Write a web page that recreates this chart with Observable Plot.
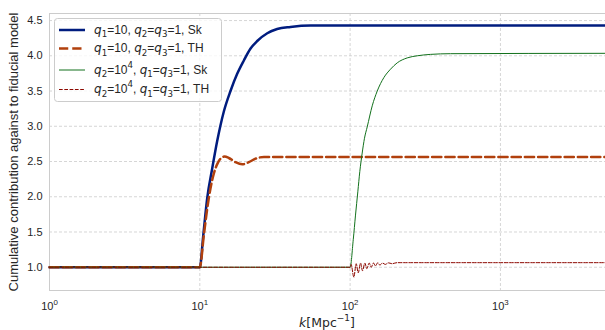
<!DOCTYPE html>
<html>
<head>
<meta charset="utf-8">
<script src="https://cdn.jsdelivr.net/npm/d3@7"></script>
<script src="https://cdn.jsdelivr.net/npm/@observablehq/plot@0.6"></script>
<style>
  html, body { margin: 0; padding: 0; background: white; overflow: hidden; }
  #chart { width: 605px; height: 330px; }
</style>
</head>
<body>
<div id="chart"></div>
<script>
// ---- data ----
const kTicks = [1, 10, 100, 1000];
const kTickLabels = ["10^0", "10^1", "10^2", "10^3"];
const yTicks = [1.0, 1.5, 2.0, 2.5, 3.0, 3.5, 4.0, 4.5];

const seriesLabels = [
  "*q*_1=10, *q*_2=*q*_3=1, Sk",
  "*q*_1=10, *q*_2=*q*_3=1, TH",
  "*q*_2=10^4, *q*_1=*q*_3=1, Sk",
  "*q*_2=10^4, *q*_1=*q*_3=1, TH"
];

// q1=10, Sk
const kSkQ1 = [1, 10, 10.54, 11.2, 12.09, 13.05, 14.45, 16.0, 17.7, 19.6, 21.7, 24.1, 28.1, 32.7, 40.1, 54.6, 5000];
const vSkQ1 = [1.0, 1.0, 1.45, 1.98, 2.40, 2.79, 3.21, 3.50, 3.74, 3.93, 4.10, 4.21, 4.32, 4.38, 4.41, 4.43, 4.43];
// q1=10, TH
const kThQ1 = [1, 10, 10.63, 11.20, 11.78, 12.40, 13.18, 13.88, 14.60, 15.6, 17.28, 19.15, 21.18, 23.48, 26.7, 34.4, 5000];
const vThQ1 = [1.0, 1.0, 1.45, 1.83, 2.12, 2.33, 2.48, 2.55, 2.57, 2.55, 2.49, 2.46, 2.49, 2.54, 2.565, 2.565, 2.565];
// q2=1e4, Sk
const kSkQ2 = [1, 100, 104.9, 108.6, 112.5, 116.0, 120.3, 124.6, 129.9, 140.3, 151.5, 167.6, 185.7, 205.8, 239.7, 279.5, 342.6, 466, 5000];
const vSkQ2 = [1.0, 1.0, 1.39, 1.74, 2.07, 2.36, 2.62, 2.83, 2.99, 3.29, 3.50, 3.69, 3.81, 3.90, 3.97, 4.00, 4.02, 4.03, 4.035];
// q2=1e4, TH
const kThQ2 = [1, 100, 101.5, 105.8, 109.8, 113.2, 117.3, 120.9, 125.3, 129.2, 133.9, 138.1, 143.1, 147.5, 152.9, 157.6, 164.3, 171.2, 180, 190, 205, 240, 5000];
const vThQ2 = [1.0, 1.0, 1.04, 0.86, 1.05, 0.92, 1.06, 0.95, 1.06, 0.98, 1.06, 1.00, 1.06, 1.02, 1.065, 1.03, 1.06, 1.04, 1.062, 1.05, 1.065, 1.065, 1.065];

// ---- styles ----
const styles = [
  {stroke: "#001c7f", strokeWidth: 2.5, dash: null},
  {stroke: "#b1400d", strokeWidth: 2.5, dash: "9.25,4"},
  {stroke: "#12711c", strokeWidth: 1.0, dash: null},
  {stroke: "#8c0800", strokeWidth: 1.0, dash: "3.7,1.6"}
];
const seriesData = [[kSkQ1, vSkQ1], [kThQ1, vThQ1], [kSkQ2, vSkQ2], [kThQ2, vThQ2]]
  .map(([ks, vs]) => ks.map((k, i) => ({k, v: vs[i]})));

const FONT = "'Liberation Sans', Arial, 'DejaVu Sans', sans-serif";
const MATH = "'DejaVu Sans', sans-serif";
const TXT = "#262626";
const GRID = "#cccccc";

const chart = Plot.plot({
  width: 605,
  height: 330,
  marginLeft: 49,
  marginRight: 0,
  marginTop: 13,
  marginBottom: 40,
  style: {fontFamily: FONT, fontSize: "11px", color: TXT, background: "white", overflow: "visible"},
  x: {type: "log", domain: [1, 5000]},
  y: {domain: [0.67, 4.6]},
  marks: [
    Plot.gridX(kTicks, {stroke: GRID, strokeOpacity: 1, strokeDasharray: "3,2", strokeWidth: 0.8}),
    Plot.gridY(yTicks, {stroke: GRID, strokeOpacity: 1, strokeDasharray: "3,2", strokeWidth: 0.8}),
    Plot.frame({stroke: GRID, strokeWidth: 1}),
    Plot.axisX(kTicks, {tickSize: 0, tickPadding: 12, label: null,
      tickFormat: d => kTickLabels[kTicks.indexOf(d)], fill: TXT}),
    Plot.axisY(yTicks, {tickSize: 0, tickPadding: 7, label: null,
      tickFormat: d3.format(".1f"), fill: TXT}),
    ...seriesData.map((data, i) => Plot.line(data, {
      x: "k", y: "v", curve: "monotone-x",
      stroke: styles[i].stroke, strokeWidth: styles[i].strokeWidth,
      strokeDasharray: styles[i].dash
    }))
  ]
});
document.getElementById("chart").appendChild(chart);

// ---- rich text helper (italic *x*, sub _x / _{..}, sup ^x / ^{..}) ----
function tokens(str) {
  const out = []; let it = false; let buf = ""; let i = 0;
  const flush = () => { if (buf) { out.push({t: buf, it, pos: 0}); buf = ""; } };
  while (i < str.length) {
    const c = str[i];
    if (c === "*") { flush(); it = !it; i++; continue; }
    if (c === "_" || c === "^") {
      flush();
      let s;
      if (str[i + 1] === "{") { const j = str.indexOf("}", i); s = str.slice(i + 2, j); i = j + 1; }
      else { s = str[i + 1]; i += 2; }
      out.push({t: s, it: false, pos: c === "_" ? 1 : -1});
      continue;
    }
    buf += c; i++;
  }
  flush();
  return out;
}
function rich(sel, str, size, mathFont) {
  let shift = 0;
  for (const tk of tokens(str)) {
    const target = tk.pos === 1 ? size * 0.28 : tk.pos === -1 ? -size * 0.5 : 0;
    const ts = sel.append("tspan").text(tk.t).attr("dy", target - shift);
    if (tk.it) ts.attr("font-style", "italic");
    if (mathFont && (tk.it || tk.pos)) ts.attr("font-family", mathFont);
    if (tk.pos) ts.attr("font-size", size * 0.72);
    shift = target;
  }
}

const svg = d3.select(chart);

// x tick labels with superscripts
svg.selectAll('[aria-label="x-axis tick label"] text').each(function () {
  const s = this.textContent;
  this.textContent = "";
  rich(d3.select(this), s, 11);
});

// axis titles
const yLab = svg.append("text")
  .attr("transform", "translate(13,152) rotate(-90)")
  .attr("text-anchor", "middle").attr("dy", "0.35em")
  .attr("font-family", FONT).attr("font-size", 13).attr("fill", TXT);
yLab.text("Cumulative contribution against to fiducial model");

const xLab = svg.append("text")
  .attr("x", 327).attr("y", 327)
  .attr("text-anchor", "middle")
  .attr("font-family", MATH).attr("font-size", 12.5).attr("fill", TXT);
rich(xLab, "*k*[Mpc^{\u22121}]", 12.5);

// legend
const lg = svg.append("g").attr("text-anchor", "start");
lg.append("rect").attr("x", 54.5).attr("y", 18.5).attr("width", 167).attr("height", 83).attr("rx", 3)
  .attr("fill", "white").attr("fill-opacity", 0.8).attr("stroke", GRID).attr("stroke-width", 1);
const rowY = [30, 48.5, 70, 89.5];
seriesLabels.forEach((lab, i) => {
  const st = styles[i];
  const ln = lg.append("line").attr("x1", 59).attr("x2", 85).attr("y1", rowY[i]).attr("y2", rowY[i])
    .attr("stroke", st.stroke).attr("stroke-width", st.strokeWidth);
  if (st.dash) ln.attr("stroke-dasharray", st.dash);
  const t = lg.append("text").attr("x", 94).attr("y", rowY[i] + 3.8)
    .attr("text-anchor", "start")
    .attr("font-family", FONT).attr("font-size", 12).attr("fill", TXT);
  rich(t, lab, 12, MATH);
});
</script>
</body>
</html>
